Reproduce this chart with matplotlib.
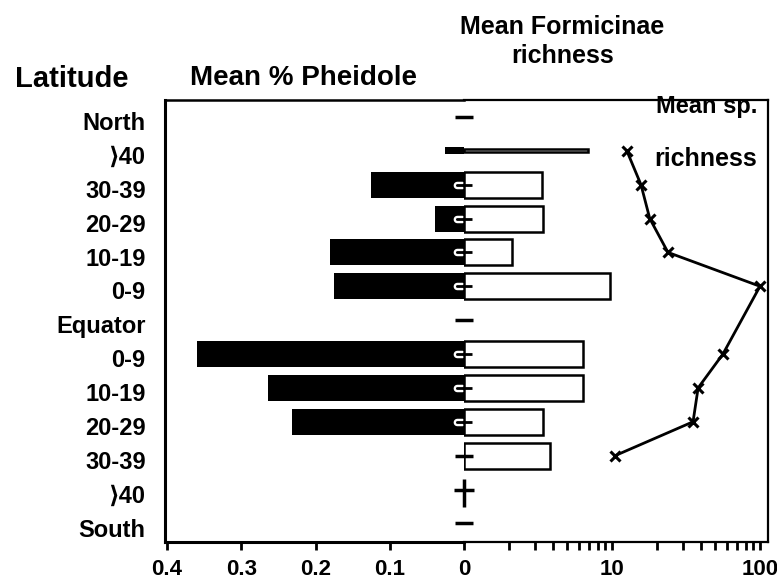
import numpy as np
import matplotlib
matplotlib.use('Agg')
import matplotlib.pyplot as plt
from matplotlib.markers import TICKRIGHT
from matplotlib.transforms import ScaledTranslation

plt.rcParams['font.family'] = ['Liberation Sans', 'DejaVu Sans']

# data (NaN = no value drawn)
latitudes = ['North', '⟩40', '30-39', '20-29', '10-19', '0-9', 'Equator',
             '0-9', '10-19', '20-29', '30-39', '⟩40', 'South']
pheidole = [np.nan, 0.026, 0.125, 0.039, 0.18, 0.175, np.nan,
            0.36, 0.264, 0.232, np.nan, np.nan, np.nan]
formicinae = [np.nan, 6.9, 3.37, 3.42, 2.11, 9.7, np.nan,
              6.36, 6.36, 3.42, 3.81, np.nan, np.nan]
sp_richness = [np.nan, 12.6, 15.7, 18.0, 23.9, 100, np.nan,
               56.2, 38.2, 35.3, 10.5, np.nan, np.nan]
dash_rows = ['North', 'Equator', 'South']
left_ticks = [0.4, 0.3, 0.2, 0.1, 0]
left_ticklabels = ['0.4', '0.3', '0.2', '0.1', '0']
right_ticks = [10, 100]
right_ticklabels = ['10', '100']

W, H = 777, 581


def px(x0, y0, x1, y1):
    return [x0 / W, 1 - y1 / H, (x1 - x0) / W, (y1 - y0) / H]


fig = plt.figure(figsize=(W / 100, H / 100), dpi=100)
axl = fig.add_axes(px(165, 100, 464, 542))
axr = fig.add_axes(px(464, 100, 768, 542), sharey=axl)
axr.patch.set_visible(False)

rows = np.arange(len(latitudes))
pheidole = np.array(pheidole)
formicinae = np.array(formicinae)
sp_richness = np.array(sp_richness)

# bar heights: the >40 North row is drawn very thin in the original
hb = np.full(len(rows), 0.77)
hb[1] = 0.2
hw = hb.copy()
hw[1] = 0.08

m = ~np.isnan(pheidole)
axl.barh(rows[m], pheidole[m], height=hb[m], color='black', zorder=2)

m = ~np.isnan(formicinae)
axr.barh(rows[m], formicinae[m] - 1, left=1, height=hw[m], facecolor='white',
         edgecolor='black', linewidth=1.8, zorder=2)

m = ~np.isnan(sp_richness)
axr.plot(sp_richness[m], rows[m], color='black', lw=2, marker='x',
         ms=7, mew=2.2, zorder=3)

# small marks on the zero line
for i, lab in enumerate(latitudes):
    if lab in dash_rows or i == 10:
        axr.plot(1, i, marker='_', ms=13, mew=2.5, color='black', clip_on=False, zorder=4)
    elif i == 11:
        axr.plot(1, i, marker='_', ms=14, mew=2.5, color='black', clip_on=False, zorder=4)
        axr.plot(1, i + 0.1, marker='|', ms=20, mew=2.5, color='black', clip_on=False, zorder=4)
    elif not np.isnan(pheidole[i]) and i != 1:
        axr.plot(1, i, marker=TICKRIGHT, ms=6, mew=2, color='black', clip_on=False, zorder=4)
        axl.plot(0.008, i, marker='$\\subset$', ms=6, color='white', clip_on=False, zorder=4)

axl.set_xlim(0.4027, 0)
axr.set_xscale('log')
axr.set_xlim(1, 113.3)
axl.set_ylim(12.55, -0.5)

axl.set_yticks(rows, latitudes)
axl.tick_params(axis='y', length=0, pad=14, labelsize=17)
for t in axl.get_yticklabels():
    t.set_fontweight('bold')
    t.set_transform(t.get_transform() + ScaledTranslation(0, -3 / 72, fig.dpi_scale_trans))
axr.tick_params(axis='y', left=False, labelleft=False)

axl.set_xticks(left_ticks, left_ticklabels)
axl.tick_params(axis='x', direction='out', length=6, width=2, pad=6, labelsize=16)
axr.set_xticks(right_ticks, right_ticklabels)
axr.tick_params(axis='x', which='major', direction='out', length=6, width=2, pad=6, labelsize=16)
axr.tick_params(axis='x', which='minor', direction='out', length=6, width=2)
for ax in (axl, axr):
    for t in ax.get_xticklabels():
        t.set_fontweight('bold')

axl.spines['right'].set_visible(False)
axr.spines['left'].set_visible(False)
axl.spines['left'].set_linewidth(2.2)
axl.spines['bottom'].set_linewidth(2.2)
axl.spines['top'].set_linewidth(1.8)
for s in ('top', 'bottom', 'right'):
    axr.spines[s].set_linewidth(1.6)

# titles and annotations
fig.text(72 / W, 1 - 87 / H, 'Latitude', ha='center', va='baseline',
         fontsize=21, fontweight='bold')
fig.text(304 / W, 1 - 85 / H, 'Mean % Pheidole', ha='center', va='baseline',
         fontsize=20, fontweight='bold')
fig.text(562 / W, 1 - 34 / H, 'Mean Formicinae', ha='center', va='baseline',
         fontsize=18, fontweight='bold')
fig.text(563 / W, 1 - 63 / H, 'richness', ha='center', va='baseline',
         fontsize=18, fontweight='bold')
fig.text(707 / W, 1 - 113 / H, 'Mean sp.', ha='center', va='baseline',
         fontsize=17, fontweight='bold', zorder=5)
fig.text(706 / W, 1 - 166 / H, 'richness', ha='center', va='baseline',
         fontsize=18, fontweight='bold', zorder=5)

fig.savefig('out.png', dpi=100)
